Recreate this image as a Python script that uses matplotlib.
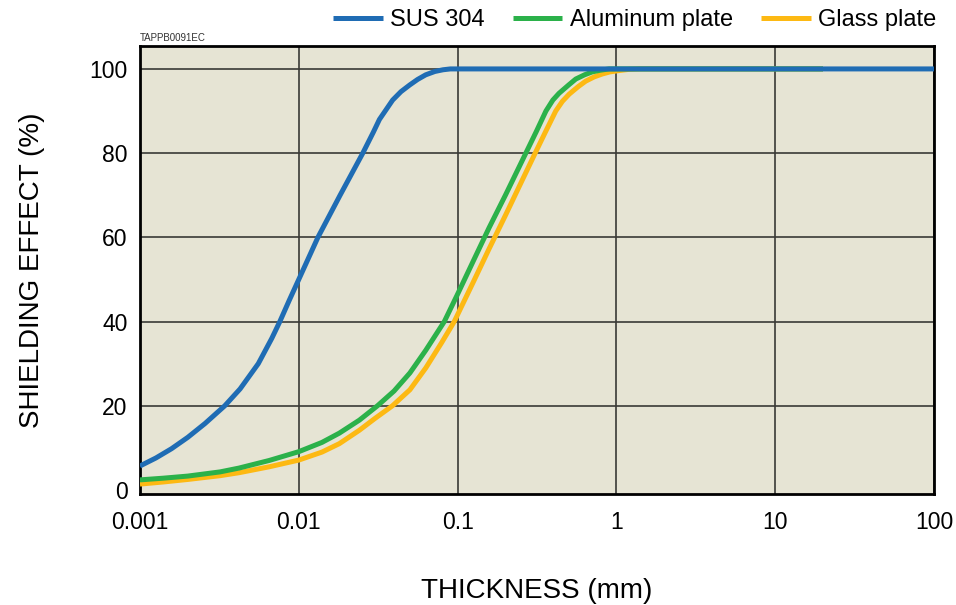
import numpy as np
import matplotlib
matplotlib.use("Agg")
import matplotlib.pyplot as plt

plt.rcParams["font.family"] = ["Liberation Sans", "DejaVu Sans"]

# thickness (mm) vs shielding effect (%)
sus_x = [0.001, 0.00126, 0.00158, 0.002, 0.00257, 0.00342, 0.00427, 0.00556,
         0.00676, 0.0076, 0.0087, 0.01, 0.0132, 0.0182, 0.0253, 0.0295, 0.0322,
         0.035, 0.039, 0.044, 0.050, 0.056, 0.063, 0.072, 0.081, 0.09, 0.1, 1,
         10, 100]
sus_y = [5.7, 7.6, 9.8, 12.5, 15.8, 20, 24, 30, 36, 40, 45, 50, 60, 70, 80, 85,
         88, 90, 92.6, 94.6, 96.2, 97.5, 98.6, 99.4, 99.8, 100, 100, 100, 100,
         100]

alu_x = [0.001, 0.0014, 0.002, 0.0032, 0.0042, 0.0065, 0.01, 0.014, 0.018,
         0.0241, 0.0313, 0.0398, 0.0501, 0.0631, 0.0825, 0.1, 0.126, 0.158, 0.2,
         0.269, 0.312, 0.36, 0.398, 0.435, 0.501, 0.555, 0.63, 0.705, 0.794,
         0.9, 20]
alu_y = [2.4, 2.8, 3.3, 4.3, 5.2, 7.0, 9.1, 11.3, 13.5, 16.6, 20, 23.5, 27.8,
         33.2, 40, 46.5, 54.5, 62.3, 70, 80, 85, 90, 92.6, 94.2, 96.2, 97.6,
         98.6, 99.3, 99.7, 100, 100]

glass_x = [0.001, 0.0014, 0.002, 0.0032, 0.0042, 0.0065, 0.01, 0.014, 0.018,
           0.0241, 0.0302, 0.0389, 0.0501, 0.0631, 0.0794, 0.0953, 0.126, 0.158,
           0.2, 0.251, 0.308, 0.355, 0.415, 0.457, 0.504, 0.575, 0.641, 0.724,
           0.815, 0.912, 1.035, 1.2, 1.41, 20]
glass_y = [1.4, 1.9, 2.5, 3.4, 4.1, 5.5, 7.1, 9.0, 11.0, 14.2, 17.0, 20, 23.8,
           29.0, 35.0, 40, 49.5, 57.3, 65.2, 73, 80, 84.8, 90, 92.3, 94.0, 95.8,
           97.1, 98.1, 98.8, 99.3, 99.6, 99.9, 100, 100]

xticks = [0.001, 0.01, 0.1, 1, 10, 100]
xtick_labels = ["0.001", "0.01", "0.1", "1", "10", "100"]
yticks = [0, 20, 40, 60, 80, 100]

fig = plt.figure(figsize=(9.56, 6.05), dpi=100)
ax = fig.add_axes([0.1464, 0.1835, 0.8306, 0.7405])
ax.set_facecolor("#e6e4d4")

style = dict(lw=3.6, solid_joinstyle="round", solid_capstyle="butt")
ax.plot(glass_x, glass_y, color="#fdb913", label="Glass plate", zorder=3, **style)
ax.plot(alu_x, alu_y, color="#2bb14a", label="Aluminum plate", zorder=4, **style)
ax.plot(sus_x, sus_y, color="#1f6cb4", label="SUS 304", zorder=5, **style)

ax.set_xscale("log")
ax.set_xlim(0.001, 100)
ax.set_ylim(-0.95, 105.45)
ax.set_xticks(xticks)
ax.set_xticklabels(xtick_labels)
ax.minorticks_off()
ax.set_yticks(yticks)
ax.tick_params(length=0, labelsize=16.5, pad=9)
ax.tick_params(axis="x", pad=12)
ax.grid(True, color="#3a3a36", lw=1.2, zorder=1)
ax.get_ygridlines()[0].set_visible(False)
ax.set_axisbelow(True)
for s in ax.spines.values():
    s.set_linewidth(2)
    s.set_color("black")

ax.set_xlabel("THICKNESS (mm)", fontsize=20, labelpad=32)
ax.set_ylabel("SHIELDING EFFECT (%)", fontsize=20, labelpad=32)

fig.text(0.1464, 0.937, "TAPPB0091EC", fontsize=7, color="#333333",
         ha="left", va="center")

h, l = ax.get_legend_handles_labels()
fig.legend(h[::-1], l[::-1], loc="center right", bbox_to_anchor=(0.979, 0.967),
           ncol=3, frameon=False, fontsize=17, handlelength=2.1,
           handletextpad=0.3, columnspacing=1.2, borderpad=0, borderaxespad=0)

fig.savefig("out.png", dpi=100)
